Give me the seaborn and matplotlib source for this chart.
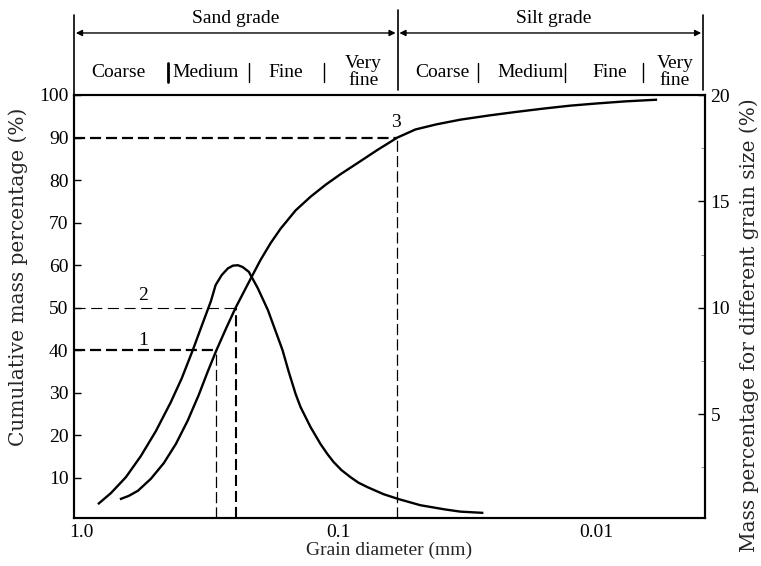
import matplotlib
matplotlib.use("Agg")
import matplotlib.pyplot as plt
import seaborn as sns
from matplotlib.ticker import FixedLocator, FixedFormatter, LogLocator, NullFormatter, MultipleLocator

# Cumulative curve: grain diameter (mm) -> cumulative mass percentage (%)
cum_diameter = [0.706, 0.652, 0.601, 0.5355, 0.4768, 0.428, 0.385, 0.349, 0.322,
                0.298, 0.274, 0.251, 0.223, 0.201, 0.1835, 0.1678, 0.1467, 0.1284,
                0.1123, 0.0982, 0.0844, 0.0706, 0.0591, 0.0503, 0.0417, 0.0337,
                0.026, 0.0206, 0.01605, 0.0126, 0.0100, 0.00772, 0.0058]
cum_percent = [5.0, 5.8, 7.0, 9.8, 13.5, 18.0, 23.5, 29.5, 35.0,
               40.0, 45.0, 50.0, 56.0, 61.2, 65.2, 68.6, 72.9, 76.1,
               78.9, 81.4, 84.0, 87.1, 90.0, 91.9, 93.1, 94.2,
               95.2, 96.0, 96.8, 97.5, 98.0, 98.5, 98.9]

# Frequency curve: grain diameter (mm) -> mass percentage of each size (%)
freq_diameter = [0.859, 0.765, 0.669, 0.5855, 0.512, 0.448, 0.406, 0.368, 0.340,
                 0.313, 0.300, 0.284, 0.269, 0.257, 0.246, 0.236, 0.223, 0.206,
                 0.188, 0.165, 0.156, 0.1467, 0.1404, 0.1284, 0.1174, 0.1104,
                 0.1045, 0.0974, 0.0899, 0.0837, 0.0772, 0.0669, 0.0585, 0.0481,
                 0.0385, 0.0337, 0.0274]
freq_percent = [0.77, 1.29, 2.04, 3.03, 4.20, 5.56, 6.69, 8.01, 9.14,
                10.31, 11.07, 11.54, 11.85, 11.98, 12.0, 11.92, 11.69, 10.93,
                9.89, 8.01, 6.98, 5.94, 5.33, 4.39, 3.59, 3.12,
                2.75, 2.37, 2.04, 1.78, 1.57, 1.24, 1.01, 0.72,
                0.52, 0.42, 0.36]

# Characteristic points read on the cumulative curve
mark_labels = ["1", "2", "3"]
mark_percent = [40, 50, 90]
mark_diameter = [0.298, 0.251, 0.0591]

x_ticks = [1.0, 0.1, 0.01]
x_tick_labels = ["1.0", "0.1", "0.01"]
left_ticks = [10, 20, 30, 40, 50, 60, 70, 80, 90, 100]
right_ticks = [5, 10, 15, 20]

grade_groups = ["Sand grade", "Silt grade"]
grade_classes = ["Coarse", "Medium", "Fine", "Very\nfine",
                 "Coarse", "Medium", "Fine", "Very\nfine"]

sns.set_style("white")
plt.rcParams["font.family"] = ["Liberation Serif", "DejaVu Serif"]
plt.rcParams["text.color"] = "black"
plt.rcParams["axes.edgecolor"] = "black"
plt.rcParams["xtick.color"] = "black"
plt.rcParams["ytick.color"] = "black"
plt.rcParams["lines.scale_dashes"] = False

FS = 14
XMAX, XMIN = 1.064, 0.00378
YL = (0.6, 100)
YR = (0.12, 20)

fig = plt.figure(figsize=(7.61, 5.66), dpi=100)
ax = fig.add_axes([74 / 761, 1 - 518 / 566, 631 / 761, 423 / 566])
ax2 = ax.twinx()

line_kw = dict(color="black", lw=1.7, sort=False, estimator=None)
sns.lineplot(x=cum_diameter, y=cum_percent, ax=ax, **line_kw)
sns.lineplot(x=freq_diameter, y=freq_percent, ax=ax2, **line_kw)
for a in (ax, ax2):
    for ln in a.get_lines():
        ln.set_solid_joinstyle("round")
        ln.set_solid_capstyle("butt")

ax.set_xscale("log")
ax.set_xlim(XMAX, XMIN)
ax.set_ylim(*YL)
ax2.set_ylim(*YR)

# Reference lines to the characteristic points
h_style = [dict(lw=1.6, dashes=(8, 3.5)), dict(lw=0.8, dashes=(8, 4)), dict(lw=1.6, dashes=(8, 3.5))]
v_style = [dict(lw=0.9, dashes=(8, 3)), dict(lw=1.5, dashes=(8, 3.5)), dict(lw=0.9, dashes=(8, 3))]
for p, d, hs, vs in zip(mark_percent, mark_diameter, h_style, v_style):
    ax.plot([XMAX, d], [p, p], color="black", linestyle="--", **hs)
    ax.plot([d, d], [YL[0], p], color="black", linestyle="--", **vs)
ax.text(0.575, 40 + 2.4, mark_labels[0], fontsize=FS, ha="center", va="center")
ax.text(0.575, 50 + 2.9, mark_labels[1], fontsize=FS, ha="center", va="center")
ax.text(0.0601, 90 + 3.6, mark_labels[2], fontsize=FS, ha="center", va="center")

# Axes, ticks and labels
for a in (ax, ax2):
    for s in a.spines.values():
        s.set_linewidth(1.5)
        s.set_color("black")

ax.xaxis.set_major_locator(FixedLocator(x_ticks))
ax.xaxis.set_major_formatter(FixedFormatter(x_tick_labels))
ax.xaxis.set_minor_locator(LogLocator(base=10, subs=range(2, 10)))
ax.xaxis.set_minor_formatter(NullFormatter())
ax.tick_params(axis="x", which="major", direction="in", length=8, width=1.2,
               labelsize=FS, pad=4)
ax.tick_params(axis="x", which="minor", direction="in", length=5, width=1.0)

ax.set_yticks(left_ticks)
ax.set_yticklabels([str(t) for t in left_ticks])
ax.tick_params(axis="y", which="major", direction="in", length=5, width=1.0,
               labelsize=FS, pad=4)

ax2.set_yticks(right_ticks)
ax2.set_yticklabels([str(t) for t in right_ticks])
ax2.yaxis.set_minor_locator(MultipleLocator(2.5))
ax2.tick_params(axis="y", which="major", direction="in", length=5, width=1.0,
                labelsize=FS, pad=4)
ax2.tick_params(axis="y", which="minor", direction="in", length=3, width=0.6,
                color="0.5")

ax.set_xlabel("Grain diameter (mm)", fontsize=FS, labelpad=1)
ax.set_ylabel("Cumulative mass percentage (%)", fontsize=14.5,
              family=["DejaVu Serif"])
ax.yaxis.set_label_coords(-0.073, 0.57)
ax2.set_ylabel("Mass percentage for different grain size (%)", fontsize=14.5,
               family=["DejaVu Serif"], rotation=90)
ax2.yaxis.set_label_coords(1.054, 0.455)

# Grade band above the plot
tr = ax.transAxes
band_kw = dict(color="black", lw=1.2, transform=tr, clip_on=False)
split = 0.5127
ax.plot([0, 0], [1.0, 1.189], **band_kw)
ax.plot([split, split], [1.012, 1.201], **band_kw)
ax.plot([0.997, 0.997], [1.012, 1.189], **band_kw)
arrow_kw = dict(arrowstyle="<|-|>", color="black", lw=1.0, mutation_scale=9,
                shrinkA=0, shrinkB=0)
ax.annotate("", xy=(0.003, 1.1466), xytext=(split - 0.003, 1.1466),
            xycoords=tr, textcoords=tr, arrowprops=arrow_kw, annotation_clip=False)
ax.annotate("", xy=(split + 0.003, 1.1466), xytext=(0.994, 1.1466),
            xycoords=tr, textcoords=tr, arrowprops=arrow_kw, annotation_clip=False)
group_x = [0.2563, 0.7595]
for name, gx in zip(grade_groups, group_x):
    ax.text(gx, 1.182, name, transform=tr, fontsize=FS, ha="center", va="center")

class_x = [0.0696, 0.2089, 0.3354, 0.4589, 0.5839, 0.7231, 0.8497, 0.9525]
for name, cx in zip(grade_classes, class_x):
    ax.text(cx, 1.054, name, transform=tr, fontsize=FS, ha="center", va="center",
            linespacing=0.95)

sep_x = [0.1487, 0.2769, 0.3956, 0.6408, 0.7785, 0.9019]
sep_w = [2.0, 1.0, 1.0, 1.0, 1.0, 1.0]
for sx, w in zip(sep_x, sep_w):
    ax.plot([sx, sx], [1.031, 1.076], color="black", lw=w, transform=tr, clip_on=False)

fig.savefig("out.png", dpi=100)
